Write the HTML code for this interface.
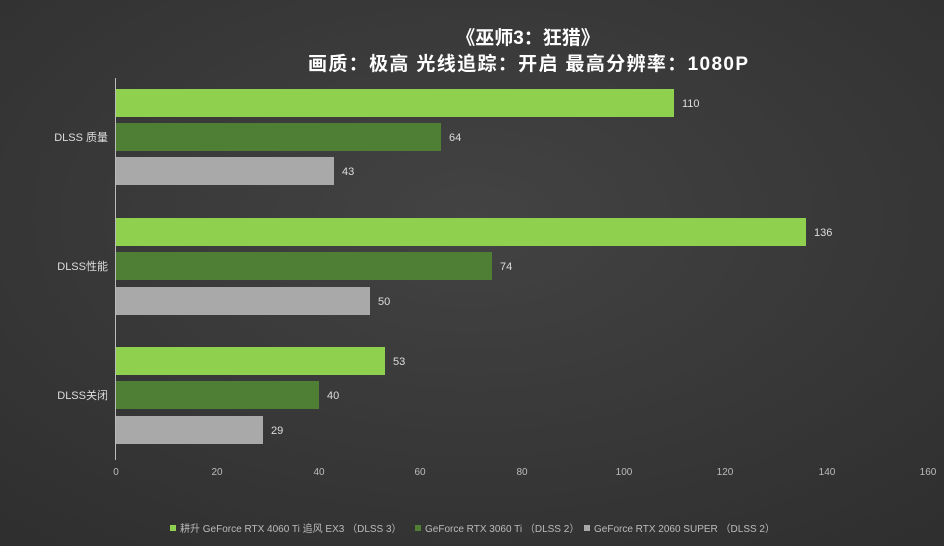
<!DOCTYPE html><html><head><meta charset="utf-8"><style>
body{margin:0;background:#3b3b3b}
svg{display:block}
text{font-family:"Liberation Sans","Noto Sans CJK SC",sans-serif}
</style></head><body>
<svg width="944" height="546" xmlns="http://www.w3.org/2000/svg">
<defs><radialGradient id="bg" cx="50%" cy="40%" r="75%"><stop offset="0" stop-color="#434343"/><stop offset="1" stop-color="#2f2f2f"/></radialGradient></defs>
<rect width="944" height="546" fill="url(#bg)"/>
<text x="528" y="44" fill="#fff" font-size="19" font-weight="bold" text-anchor="middle">《巫师3：狂猎》</text>
<text x="528" y="70" fill="#fff" font-size="19" font-weight="bold" text-anchor="middle" textLength="440" lengthAdjust="spacing">画质：极高  光线追踪：开启  最高分辨率：1080P</text>
<line x1="115.5" y1="78" x2="115.5" y2="460" stroke="#bbb" stroke-width="1"/>
<g font-size="11" fill="#ddd">
<rect x="116" y="89" width="558" height="28" fill="#8fd14f"/><text x="682" y="107">110</text>
<rect x="116" y="123" width="325" height="28" fill="#4f7f35"/><text x="449" y="141">64</text>
<rect x="116" y="157" width="218" height="28" fill="#a9a9a9"/><text x="342" y="175">43</text>
<rect x="116" y="218" width="690" height="28" fill="#8fd14f"/><text x="814" y="236">136</text>
<rect x="116" y="252" width="376" height="28" fill="#4f7f35"/><text x="500" y="270">74</text>
<rect x="116" y="287" width="254" height="28" fill="#a9a9a9"/><text x="378" y="305">50</text>
<rect x="116" y="347" width="269" height="28" fill="#8fd14f"/><text x="393" y="365">53</text>
<rect x="116" y="381" width="203" height="28" fill="#4f7f35"/><text x="327" y="399">40</text>
<rect x="116" y="416" width="147" height="28" fill="#a9a9a9"/><text x="271" y="434">29</text>
</g>
<g font-size="11" fill="#ddd" text-anchor="end">
<text x="108" y="141">DLSS 质量</text>
<text x="108" y="270">DLSS性能</text>
<text x="108" y="399">DLSS关闭</text>
</g>
<g font-size="10" fill="#bbb" text-anchor="middle">
<text x="116" y="475">0</text><text x="217" y="475">20</text><text x="319" y="475">40</text><text x="420" y="475">60</text><text x="522" y="475">80</text><text x="624" y="475">100</text><text x="725" y="475">120</text><text x="827" y="475">140</text><text x="928" y="475">160</text>
</g>
<g font-size="10" fill="#bbb">
<rect x="170" y="525" width="6" height="6" fill="#8fd14f"/><text x="180" y="532">耕升 GeForce RTX 4060 Ti 追风 EX3  （DLSS 3）</text>
<rect x="415" y="525" width="6" height="6" fill="#4f7f35"/><text x="425" y="532">GeForce RTX 3060 Ti （DLSS 2）</text>
<rect x="584" y="525" width="6" height="6" fill="#a9a9a9"/><text x="594" y="532">GeForce RTX 2060 SUPER （DLSS 2）</text>
</g>
</svg></body></html>
